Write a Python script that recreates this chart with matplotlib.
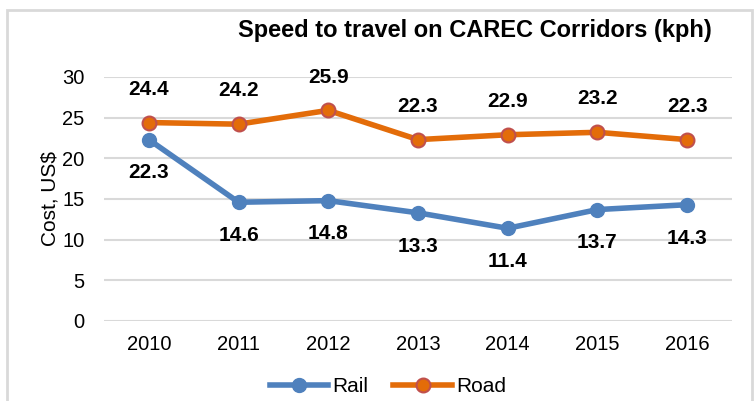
import matplotlib.pyplot as plt
from matplotlib.patches import Rectangle

years = ['2010', '2011', '2012', '2013', '2014', '2015', '2016']
rail = [22.3, 14.6, 14.8, 13.3, 11.4, 13.7, 14.3]
road = [24.4, 24.2, 25.9, 22.3, 22.9, 23.2, 22.3]

plt.rcParams['font.family'] = ['Liberation Sans', 'DejaVu Sans']

blue = '#4f81bd'
orange = '#e36c09'

fig = plt.figure(figsize=(7.56, 4.01), dpi=100)
ax = fig.add_axes([104/756, 1 - 321/401, 628/756, 244/401])

# chart border
fig.patches.append(Rectangle((6.5/756, -0.05), (752 - 6.5)/756, 1.05 - 9.5/401,
                             transform=fig.transFigure, fill=False,
                             edgecolor='#d9d9d9', linewidth=2))

x = list(range(len(years)))
ax.plot(x, rail, color=blue, linewidth=4, marker='o', markersize=10,
        markerfacecolor=blue, markeredgecolor=blue, label='Rail', zorder=3)
ax.plot(x, road, color=orange, linewidth=4, marker='o', markersize=10,
        markerfacecolor=orange, markeredgecolor='#c0504d', markeredgewidth=1.5,
        label='Road', zorder=3)

for i in x:
    ax.annotate(f'{road[i]:.1f}', (i, road[i]), xytext=(0, 24), textcoords='offset points',
                ha='center', va='center', fontsize=15, fontweight='bold')
    ax.annotate(f'{rail[i]:.1f}', (i, rail[i]), xytext=(0, -24), textcoords='offset points',
                ha='center', va='center', fontsize=15, fontweight='bold')

ax.set_xlim(-0.5, 6.5)
ax.set_ylim(0, 30)
ax.set_yticks(range(0, 31, 5))
ax.set_xticks(x)
ax.set_xticklabels(years)
ax.grid(axis='y', color='#d9d9d9', linewidth=1.5)
ax.set_axisbelow(True)
for s in ax.spines.values():
    s.set_visible(False)
ax.tick_params(length=0, labelsize=14.5, pad=10)
ax.tick_params(axis='y', pad=14)
ax.set_ylabel('Cost, US$', fontsize=15, labelpad=2)

fig.text(475/756, 1 - 31/401, 'Speed to travel on CAREC Corridors (kph)',
         ha='center', va='center', fontsize=17, fontweight='bold')

fig.legend(loc='center', bbox_to_anchor=(388/756, 1 - 387/401), ncol=2, frameon=False,
           fontsize=15, handlelength=2.8, handletextpad=0.2, columnspacing=1.2)

fig.savefig('out.png', dpi=100)
